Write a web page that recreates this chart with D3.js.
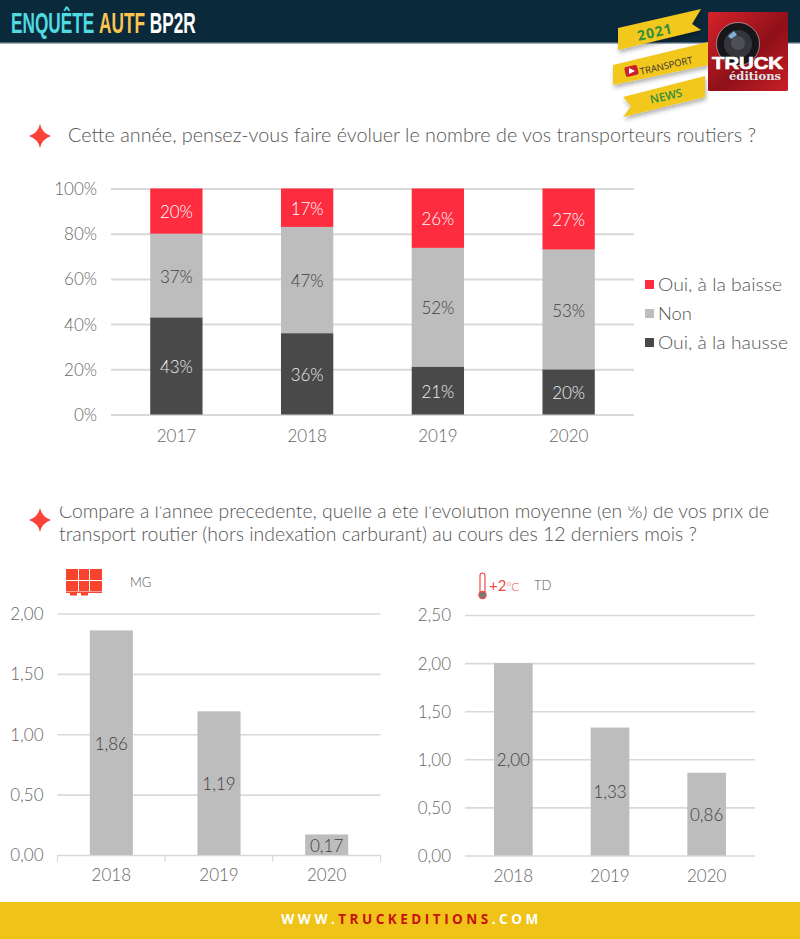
<!DOCTYPE html>
<html><head><meta charset="utf-8">
<script src="https://cdn.jsdelivr.net/npm/d3@7"></script>
<style>
html,body{margin:0;padding:0;background:#fff;overflow:hidden}
svg{display:block}
text{font-family:Lato,"Open Sans",sans-serif}
</style></head><body>
<svg id="c" width="800" height="939"></svg>
<script>
const years1 = ["2017","2018","2019","2020"];
const hausse = [43,36,21,20];
const non = [37,47,52,53];
const baisse = [20,17,26,27];
const legendLabels = ["Oui, à la baisse","Non","Oui, à la hausse"];
const legendWidths = [124,34,130];
const pctTicks = [0,20,40,60,80,100];
const years2 = ["2018","2019","2020"];
const mgValues = [1.86,1.19,0.17];
const tdValues = [2.00,1.33,0.86];
const mgTicks = [0,0.5,1,1.5,2];
const tdTicks = [0,0.5,1,1.5,2,2.5];
const q1 = "Cette année, pensez-vous faire évoluer le nombre de vos transporteurs routiers ?";
const q2a = "Comparé à l'année précédente, quelle a été l'évolution moyenne (en %) de vos prix de";
const q2b = "transport routier (hors indexation carburant) au cours des 12 derniers mois ?";

const RED="#fe2c3f", GREY="#bdbdbd", DARK="#494949", GRID="#d9d9d9", TXT="#666", LBL="#404040";
const svg=d3.select("#c");
const defs=svg.append("defs");
const fr=d3.format(".2f"), comma=v=>fr(v).replace(".",",");

// header
svg.append("rect").attr("width",800).attr("height",43).attr("fill","#0a2a3c");
svg.append("rect").attr("y",42).attr("width",800).attr("height",1.5).attr("fill","#4a6472");
const t=svg.append("text").attr("transform","translate(11,33) scale(0.594,1)").attr("font-size",29).attr("font-weight",700)
  .style("font-family","'Liberation Sans',sans-serif");
t.append("tspan").attr("fill","#4fdbe0").text("ENQUÊTE ");
t.append("tspan").attr("fill","#fdc54e").text("AUTF ");
t.append("tspan").attr("fill","#fff").text("BP2R");

// ribbons
const sh=defs.append("filter").attr("id","sh").attr("x","-20%").attr("y","-20%").attr("width","140%").attr("height","160%");
sh.append("feDropShadow").attr("dx",1).attr("dy",3).attr("stdDeviation",2).attr("flood-color","#000").attr("flood-opacity",.3);
const ribbons=svg.append("g").attr("fill","#f3c81f");
[
 "M613,65 L708,42 L708,65 L613,85 Z",
 "M623,97 L705,76 L705,97 L623,117 L631,106 Z",
 "M618,28 L701,9 L692,24 L701,30 L618,50 Z"
].forEach(d=>ribbons.append("path").attr("d",d).attr("filter","url(#sh)"));
const rtxt=(s,x,y,c,fs,w,ls)=>svg.append("text").attr("x",x).attr("y",y).attr("fill",c).attr("font-size",fs)
  .attr("font-weight",w).attr("letter-spacing",ls).attr("text-anchor","middle")
  .attr("transform",`rotate(-13 ${x} ${y})`).style("font-family","'Open Sans',sans-serif").text(s);
rtxt("2021",656,37,"#2f8f3f",14,700,1);
rtxt("TRANSPORT",667,69,"#333",9.5,400,0);
rtxt("NEWS",667,100,"#2f8f3f",11.5,600,0);
svg.append("rect").attr("x",625).attr("y",66).attr("width",13).attr("height",10).attr("rx",2).attr("fill","#c8202c").attr("transform","rotate(-13 631 71)");
svg.append("path").attr("d","M629,68 L635,71 L629,74 Z").attr("fill","#fff");

// logo
const lg=defs.append("linearGradient").attr("id","lg").attr("x1",0).attr("y1",0).attr("x2",1).attr("y2",1);
lg.append("stop").attr("offset","0%").attr("stop-color","#d8222b");
lg.append("stop").attr("offset","55%").attr("stop-color","#8e1018");
lg.append("stop").attr("offset","100%").attr("stop-color","#c91f28");
svg.append("rect").attr("x",708).attr("y",12).attr("width",80).attr("height",79).attr("rx",1.5).attr("fill","url(#lg)");
svg.append("circle").attr("cx",738).attr("cy",44).attr("r",21.5).attr("fill","#15151a").attr("stroke","#e8e8e8").attr("stroke-width",.5);
svg.append("circle").attr("cx",738).attr("cy",44).attr("r",14).attr("fill","#34363c");
svg.append("circle").attr("cx",738).attr("cy",43).attr("r",7).attr("fill","#4d4f55");
svg.append("path").attr("d","M728,36 L734,31 L737,35 L731,39 Z").attr("fill","#7fb0d8");
svg.append("text").attr("x",712).attr("y",69).attr("font-size",17).attr("font-weight",700)
  .attr("fill","#fff").attr("stroke","#fff").attr("stroke-width",.7).style("font-family","'Liberation Sans',sans-serif")
  .attr("textLength",71).attr("lengthAdjust","spacingAndGlyphs").text("TRUCK");
svg.append("text").attr("x",729).attr("y",80).attr("font-size",10.5).attr("font-weight",700)
  .attr("fill","#dfe6ea").style("font-family","'DejaVu Serif',serif").attr("textLength",52).attr("lengthAdjust","spacingAndGlyphs").text("éditions");

// question markers
const star=(cx,cy)=>svg.append("path").attr("fill","#f8433a")
  .attr("d",`M${cx},${cy-12} Q${cx+2},${cy-3} ${cx+11},${cy} Q${cx+2},${cy+3} ${cx},${cy+12} Q${cx-2},${cy+3} ${cx-11},${cy} Q${cx-2},${cy-3} ${cx},${cy-12} Z`);
star(40,136); star(40,520);
const qt=(s,x,y,len)=>svg.append("text").attr("x",x).attr("y",y).attr("font-size",20.5).attr("font-weight",300).attr("fill","#555")
  .attr("textLength",len).attr("lengthAdjust","spacingAndGlyphs").text(s);
qt(q1,68,142,688);
defs.append("clipPath").attr("id","qc").append("rect").attr("x",0).attr("y",506.5).attr("width",800).attr("height",60);
qt(q2a,59,518,710).attr("clip-path","url(#qc)");
qt(q2b,59,541,638);

// chart 1
const x1=d3.scaleBand().domain(years1).range([111,634]).paddingInner(.6).paddingOuter(.3);
const y1=d3.scaleLinear().domain([0,100]).range([414.5,188.5]);
const axis1=svg.append("g").attr("transform","translate(111,0)")
  .call(d3.axisLeft(y1).tickValues(pctTicks).tickSize(-523).tickFormat(d=>d+"%"));
axis1.select(".domain").remove();
axis1.selectAll("line").attr("stroke",GRID).attr("stroke-width",2);
axis1.selectAll("text").attr("x",-14).attr("font-size",17).attr("font-weight",300).attr("fill",TXT).attr("dy",".35em").style("font-family","Lato");
const rows=years1.map((k,i)=>({k,hausse:hausse[i],non:non[i],baisse:baisse[i]}));
const stack=d3.stack().keys(["hausse","non","baisse"]).offset(d3.stackOffsetExpand)(rows);
const cols={hausse:[DARK,"#eee"],non:[GREY,LBL],baisse:[RED,"#fff"]};
const bars=svg.append("g");
stack.forEach(s=>{
  s.forEach(d=>{
    const y0=y1(d[1]*100), h=y1(d[0]*100)-y0;
    bars.append("rect").attr("x",x1(d.data.k)).attr("y",y0).attr("width",x1.bandwidth()).attr("height",h).attr("fill",cols[s.key][0]);
    bars.append("text").attr("x",x1(d.data.k)+x1.bandwidth()/2).attr("y",y0+h/2+1.2).attr("dy",".35em").attr("text-anchor","middle")
      .attr("font-size",17).attr("font-weight",300).attr("fill",cols[s.key][1]).text(d.data[s.key]+"%");
  });
});
const xa1=svg.append("g").attr("transform","translate(0,414.5)").call(d3.axisBottom(x1).tickSize(0));
xa1.select(".domain").remove();
xa1.selectAll("text").attr("y",23).attr("dy",0).attr("font-size",17).attr("font-weight",300).attr("fill",TXT).attr("dominant-baseline","middle").style("font-family","Lato");

// legend
const lc=[RED,GREY,DARK];
const ly=d3.scalePoint().domain(legendLabels).range([284.5,342.5]);
legendLabels.forEach((l,i)=>{
  svg.append("rect").attr("x",645).attr("y",ly(l)-4.5).attr("width",9).attr("height",9).attr("fill",lc[i]);
  svg.append("text").attr("x",658).attr("y",ly(l)).attr("dy",".35em").attr("font-size",18).attr("font-weight",300).attr("fill","#555")
    .attr("textLength",legendWidths[i]).attr("lengthAdjust","spacingAndGlyphs").text(l);
});

// small charts
function small(cats,vals,ticks,left,right,y0,yT,ticksOn){
  const x=d3.scaleBand().domain(cats).range([left,right]).paddingInner(.6).paddingOuter(.3);
  const y=d3.scaleLinear().domain([0,ticks[ticks.length-1]]).range([y0,yT]);
  const g=svg.append("g");
  const a=g.append("g").attr("transform",`translate(${left},0)`)
    .call(d3.axisLeft(y).tickValues(ticks).tickSize(-(right-left)).tickFormat(comma));
  a.select(".domain").remove();
  a.selectAll("line").attr("stroke",GRID).attr("stroke-width",1.6);
  a.selectAll("text").attr("x",-14).attr("font-size",17).attr("font-weight",300).attr("fill",TXT).attr("dy",".35em").style("font-family","Lato");
  cats.forEach((c,i)=>{
    g.append("rect").attr("x",x(c)).attr("y",y(vals[i])).attr("width",x.bandwidth()).attr("height",y0-y(vals[i])).attr("fill",GREY);
    g.append("text").attr("x",x(c)+x.bandwidth()/2).attr("y",(y(vals[i])+y0)/2+1).attr("dy",".35em").attr("text-anchor","middle")
      .attr("font-size",17).attr("font-weight",300).attr("fill",LBL).text(comma(vals[i]));
  });
  const xa=g.append("g").attr("transform",`translate(0,${y0})`).call(d3.axisBottom(x).tickSize(0));
  xa.select(".domain").remove();
  xa.selectAll("text").attr("y",22).attr("dy",0).attr("dominant-baseline","middle").attr("font-size",17).attr("font-weight",300).attr("fill",TXT).style("font-family","Lato");
  if(ticksOn){
    const step=x.step();
    d3.range(cats.length+1).forEach(i=>g.append("line").attr("x1",left+i*step).attr("x2",left+i*step).attr("y1",y0).attr("y2",y0+7).attr("stroke",GRID).attr("stroke-width",1.2));
  }
}
small(years2,mgValues,mgTicks,57.5,380.5,855,613.5,true);
small(years2,tdValues,tdTicks,465,755,855.5,615,false);

// pallet icon
const pal=svg.append("g").attr("fill","#f8432f");
[[66,569,12,11],[79,569,10,11],[90,569,12,11],[66,581,12,10],[79,581,10,10],[90,581,12,10]].forEach(r=>
  pal.append("rect").attr("x",r[0]).attr("y",r[1]).attr("width",r[2]).attr("height",r[3]));
pal.append("rect").attr("x",66).attr("y",591.5).attr("width",36).attr("height",1.5);
pal.append("rect").attr("x",70).attr("y",593).attr("width",7).attr("height",2.5);
pal.append("rect").attr("x",81).attr("y",593).attr("width",7).attr("height",2.5);
svg.append("text").attr("x",130).attr("y",587).attr("font-size",13).attr("font-weight",300).attr("fill","#555").text("MG");

// thermometer icon
svg.append("rect").attr("x",480).attr("y",573).attr("width",5).attr("height",22).attr("rx",2.5).attr("fill","#fff").attr("stroke","#f04a48").attr("stroke-width",1.2);
svg.append("circle").attr("cx",482.5).attr("cy",595).attr("r",3.6).attr("fill","#777").attr("stroke","#f04a48").attr("stroke-width",1.2);
const tt=svg.append("text").attr("x",489).attr("y",591).attr("font-size",15).attr("font-weight",400);
tt.append("tspan").attr("fill","#f04a48").text("+2");
tt.append("tspan").attr("fill","#f04a48").attr("font-size",12).attr("font-weight",300).text("°C");
svg.append("text").attr("x",534).attr("y",590).attr("font-size",13).attr("font-weight",300).attr("fill","#555").text("TD");

// footer
svg.append("rect").attr("y",902).attr("width",800).attr("height",37).attr("fill","#efc318");
const f=svg.append("text").attr("x",411.5).attr("y",924).attr("text-anchor","middle").attr("font-size",13.5).attr("font-weight",700).attr("letter-spacing",3.5).style("font-family","'Open Sans',sans-serif");
f.append("tspan").attr("fill","#fff").text("WWW.");
f.append("tspan").attr("fill","#c8100f").text("TRUCKEDITIONS");
f.append("tspan").attr("fill","#fff").text(".COM");
</script>
</body></html>
